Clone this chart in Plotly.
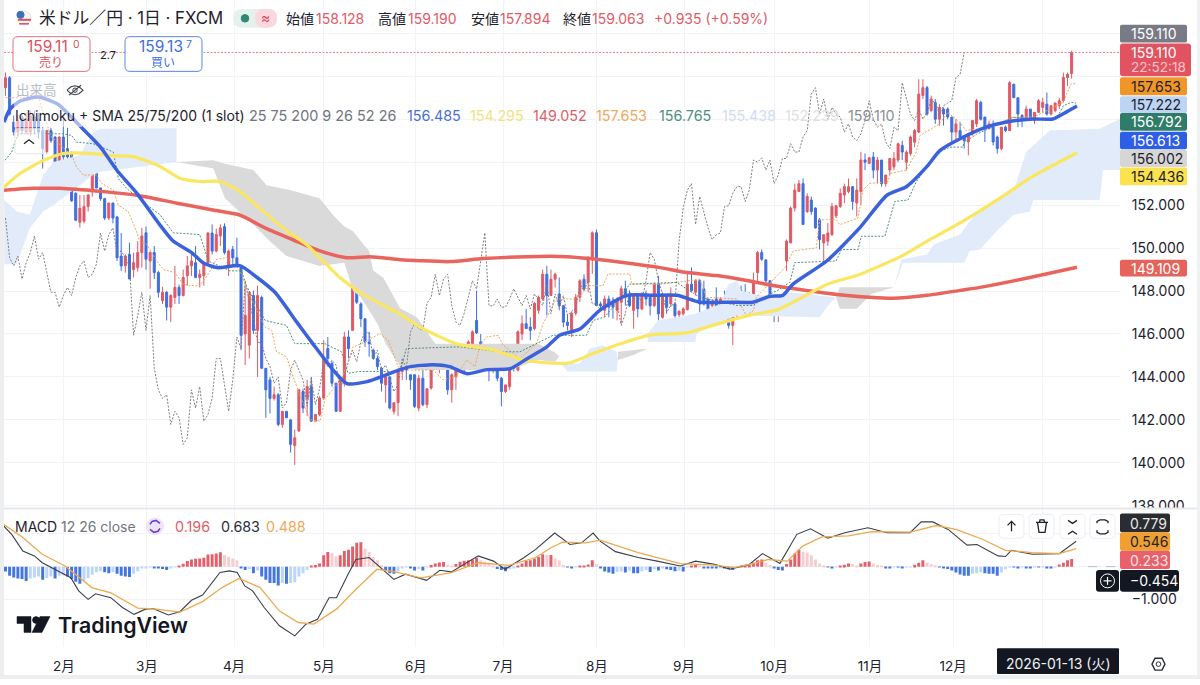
import plotly.graph_objects as go

W, H = 1200, 685

# candles (bar 0 = mid Jan 2025, last bar = 2026-01-13)
opens = [
    157.47,157.93,155.86,155.40,156.10,155.40,155.40,156.10,156.00,155.47,
    154.50,155.47,155.17,154.00,155.17,154.63,154.40,152.55,151.20,151.25,
    151.93,152.63,154.55,152.80,152.30,151.40,152.10,151.45,149.63,149.17,
    149.71,149.00,149.09,149.79,150.71,149.40,149.79,148.86,147.55,147.94,
    147.25,147.70,148.17,147.79,148.71,149.17,149.32,148.63,148.71,149.32,
    150.70,149.86,150.56,151.00,149.17,149.94,149.55,149.17,146.00,145.48,
    147.79,146.17,147.70,144.40,143.86,143.00,143.17,141.79,142.40,142.00,
    140.80,141.48,143.32,143.00,143.55,141.94,142.25,143.02,145.32,144.63,
    143.71,142.40,143.71,145.86,146.17,148.40,147.40,146.71,145.63,145.25,
    144.86,144.40,143.63,144.00,142.40,142.80,144.25,145.25,144.10,144.10,
    142.55,143.94,142.71,143.48,144.78,144.63,144.78,144.55,143.40,144.00,
    144.63,145.25,145.10,145.40,146.63,145.63,144.86,145.17,144.32,144.32,
    143.94,143.32,143.55,144.86,144.32,146.00,146.48,146.32,146.25,147.10,
    147.63,148.78,147.79,148.55,147.86,147.32,146.55,146.17,146.97,147.71,
    148.55,148.40,149.48,150.71,147.40,147.10,147.63,147.48,147.10,147.48,
    148.10,147.79,147.10,147.79,147.17,147.86,147.71,147.32,148.32,146.78,
    147.79,147.40,147.40,146.90,146.94,147.13,148.32,147.94,148.48,148.10,
    147.63,147.32,147.63,147.17,147.63,147.32,146.40,146.94,148.02,147.86,
    147.71,147.55,148.86,149.79,149.45,148.48,147.79,147.02,147.17,149.40,
    150.24,151.86,152.63,153.00,151.70,152.24,151.86,151.32,150.24,150.32,
    150.63,151.50,151.94,152.47,152.63,152.86,152.10,152.63,154.10,153.94,
    154.24,153.63,154.10,153.00,153.63,153.78,154.10,154.78,154.00,154.40,
    154.93,155.40,157.10,157.47,156.40,156.78,156.00,156.47,156.47,156.10,
    155.40,155.47,155.24,154.94,155.32,155.78,156.78,156.10,155.55,155.63,
    155.17,154.63,155.63,155.47,157.63,157.00,156.17,155.94,156.47,155.94,
    156.32,156.55,156.70,156.24,156.40,156.63,156.86,157.94,158.128]
highs = [
    158.17,158.01,156.17,156.20,156.20,156.30,156.40,156.40,156.30,155.63,
    155.50,155.60,155.20,155.20,156.00,155.60,154.50,152.60,152.47,152.47,
    152.50,154.63,154.63,152.80,152.34,152.10,152.10,151.50,150.70,149.71,
    150.25,149.79,150.32,150.94,151.00,149.85,150.10,148.94,148.20,148.00,
    147.85,149.17,148.30,149.00,149.63,149.79,150.09,149.00,149.32,150.75,
    151.10,150.90,151.10,151.15,149.94,150.10,150.48,149.20,148.25,148.00,
    148.02,148.25,147.79,144.40,144.00,143.55,143.25,142.40,142.40,142.05,
    141.55,143.45,143.45,143.86,144.00,142.25,143.10,145.71,145.86,144.71,
    143.71,143.94,146.10,146.17,148.63,148.48,147.48,146.71,146.10,145.32,
    145.00,144.48,144.02,144.02,142.80,144.40,144.86,146.25,144.10,144.10,
    144.10,144.32,143.48,144.78,144.86,145.25,145.40,144.55,144.17,144.86,
    145.32,145.32,145.71,146.17,148.02,146.00,145.48,145.17,144.86,144.40,
    144.00,143.63,144.94,144.94,146.17,146.86,147.17,146.78,147.48,147.79,
    149.00,149.17,149.00,148.86,148.63,147.32,146.94,147.02,147.86,148.55,
    148.78,149.63,150.78,150.86,147.50,147.79,147.79,147.71,147.71,148.25,
    148.48,148.02,147.86,147.86,147.94,148.02,147.86,148.40,148.71,147.94,
    147.86,148.17,147.48,147.10,147.25,148.86,149.10,148.55,148.55,148.48,
    147.63,147.63,148.17,147.71,148.02,147.40,146.94,148.17,148.25,148.32,
    147.94,148.86,149.86,149.94,149.48,148.48,147.79,147.40,147.48,150.40,
    151.94,153.00,153.17,153.24,152.55,152.40,151.90,151.40,150.62,151.17,
    152.10,152.00,152.78,153.00,153.24,152.86,153.24,154.47,154.40,154.24,
    154.47,154.24,154.10,153.40,154.17,154.47,154.90,155.00,154.55,155.24,
    155.55,157.86,157.86,157.55,157.10,156.94,156.70,156.55,156.55,156.10,
    156.00,155.86,155.24,155.32,155.94,156.94,156.86,156.10,155.94,155.94,
    155.24,155.63,155.70,157.78,157.63,157.00,156.24,156.63,156.47,156.32,
    156.94,157.00,157.24,156.63,156.78,157.00,158.17,158.17,159.19]
lows = [
    157.09,156.17,155.24,155.17,155.30,155.30,155.20,155.30,155.10,153.70,
    154.40,154.90,153.78,153.90,154.00,154.10,152.15,151.25,150.95,151.15,
    151.70,152.40,152.78,152.20,151.30,151.30,151.15,149.40,148.94,148.86,
    148.56,148.63,148.90,149.09,149.00,148.10,148.56,147.70,147.40,146.63,
    146.55,147.40,147.40,147.75,148.25,148.70,148.60,148.17,148.25,149.20,
    149.70,149.80,150.10,149.70,148.70,149.17,149.17,145.25,144.55,144.86,
    146.00,144.00,144.40,142.10,142.30,142.90,141.70,141.63,142.10,140.48,
    139.90,141.45,142.32,142.17,141.94,141.94,142.17,142.94,144.55,143.55,
    142.40,142.40,143.55,144.86,146.17,147.40,146.32,145.40,144.94,144.80,
    144.32,143.32,142.80,142.48,142.25,142.17,143.86,143.86,143.40,142.55,
    142.40,142.63,142.55,143.40,144.40,144.17,144.48,143.17,142.80,143.40,
    144.32,144.25,145.00,145.25,146.00,144.40,144.55,143.80,144.17,143.80,
    142.63,143.25,143.40,144.25,144.25,145.71,146.25,145.71,146.17,146.94,
    147.55,146.86,147.79,148.17,147.10,146.32,146.17,145.86,146.86,147.48,
    148.00,147.94,148.80,147.30,147.20,146.78,146.78,146.71,146.63,146.48,
    147.32,147.25,146.25,146.78,147.10,147.32,146.86,147.25,146.63,146.71,
    146.94,147.25,146.71,146.78,146.86,147.10,147.94,147.79,146.86,147.32,
    146.32,147.10,147.10,147.17,147.25,146.25,145.48,146.78,147.55,147.63,
    147.48,147.55,148.40,149.40,148.40,147.79,146.55,146.55,147.10,148.94,
    150.24,151.70,152.63,151.10,151.63,151.55,150.90,149.94,149.40,150.10,
    150.55,151.40,151.86,152.10,152.55,151.78,151.47,152.00,153.63,153.94,
    153.24,153.00,152.86,152.86,153.40,153.63,154.00,154.10,153.63,154.30,
    154.70,155.35,156.94,156.17,156.32,155.78,155.70,155.70,156.00,154.94,
    155.00,155.09,154.63,154.32,155.24,155.63,155.94,154.94,155.55,154.78,
    154.40,154.55,155.40,155.47,157.00,155.63,155.63,155.94,155.94,155.78,
    156.30,156.32,156.17,156.17,156.32,156.47,156.78,157.55,157.894]
closes = [
    157.93,156.24,155.40,155.93,155.47,156.00,156.15,155.60,155.40,154.63,
    155.47,155.00,154.00,155.17,154.25,154.25,152.20,151.30,151.85,151.93,
    152.47,154.55,152.80,152.30,151.40,152.10,151.40,149.55,149.17,149.63,
    148.56,149.32,149.79,150.56,149.48,149.79,148.86,147.94,147.94,147.25,
    147.79,148.17,147.79,148.63,149.17,149.40,148.63,148.78,149.25,150.70,
    149.86,150.63,150.94,149.79,149.86,149.55,149.17,145.94,146.86,147.94,
    146.17,147.79,144.40,143.40,143.00,143.17,141.79,142.40,142.10,140.86,
    141.17,143.40,142.55,143.55,141.94,142.25,143.02,144.86,144.86,143.71,
    142.40,143.86,145.86,145.32,148.48,147.48,146.71,145.63,145.55,144.86,
    144.48,143.71,144.00,142.55,142.80,144.32,144.78,144.32,143.86,142.63,
    143.94,142.71,143.45,144.71,144.48,144.78,144.55,143.40,144.10,144.71,
    145.25,144.71,145.63,146.10,146.05,144.86,145.25,144.32,144.55,143.94,
    143.32,143.63,144.86,144.40,146.10,146.48,146.25,146.17,147.43,147.71,
    148.78,147.79,148.55,148.78,147.32,146.55,146.40,146.97,147.71,148.48,
    148.10,149.48,150.71,147.32,147.30,147.63,147.25,147.25,147.63,148.10,
    147.71,147.32,147.79,147.17,147.86,147.63,147.32,148.32,146.94,147.86,
    147.25,147.79,146.86,147.06,147.17,148.32,148.02,148.48,147.40,147.40,
    147.10,147.48,147.25,147.63,147.40,146.40,146.94,148.02,147.63,147.71,
    147.55,148.48,149.79,149.48,148.48,147.86,147.02,147.32,147.40,150.32,
    151.86,152.70,153.00,151.10,152.40,151.70,150.94,150.40,150.62,150.70,
    151.94,151.97,152.55,152.86,152.86,152.17,152.70,154.10,154.00,154.20,
    153.63,154.10,153.00,153.40,154.17,154.17,154.86,154.47,154.47,155.17,
    155.47,157.17,157.47,156.24,156.94,156.00,156.55,156.24,156.10,155.40,
    155.78,155.17,155.00,155.32,155.94,156.86,156.00,155.63,155.78,154.94,
    154.63,155.63,155.47,157.70,157.00,156.24,155.94,156.47,156.00,156.32,
    156.86,156.78,156.24,156.63,156.75,156.86,157.94,158.09,159.11]
bars = list(range(len(closes)))

# moving averages
sma25_x = [-0.36,1.1,3.5,7.9,12.7,18,22.9,27,31.8,37.4,40.5,45.1,47.8,51.2,56.7,60.9,65.2,70.5,74.4,79.2,82.6,87.5,
           95.5,98,103.4,107.5,111.7,116.5,122.1,126.2,131,134.2,139,143.8,150.4,156.7,162.5,168,175.3,180.9,185,188.1,
           190.5,198.8,206.7,213.3,218.1,223,226.1,231,237.5,242.3,248.6,253.5,256.8,259.3]
sma25_y = [155.87,156.47,156.84,157.03,156.7,155.69,154.72,153.61,152.55,151.07,150.34,149.78,149.32,149.09,149.18,148.63,147.94,146.55,145.54,144.34,143.69,143.78,
           144.34,144.48,144.57,144.48,144.15,144.34,144.38,144.85,145.4,145.95,146.23,147.1,147.8,147.8,147.8,147.48,147.48,147.48,147.75,147.8,
           148.31,149.41,150.94,152.46,152.87,153.8,154.54,155.09,155.64,155.87,156.01,156.01,156.34,156.61]
sma75_x = [-0.36,3.5,9.1,13.9,21.2,26,30.9,37.4,42.2,47.1,51.9,56.7,62.3,68.1,72.9,80.9,86.5,95.5,100.3,109.2,117.9,125.2,131,136.6,
           141.4,147.9,155.9,164.9,172.1,180.1,186.7,191.5,198.8,206.7,217.1,224.4,231,239.9,248.6,259.3]
sma75_y = [152.83,153.47,154.07,154.4,154.4,154.3,154.26,153.8,153.25,153.1,153.1,152.64,151.72,150.8,150.15,148.63,147.85,146.92,146.32,145.54,145.26,144.8,144.66,144.66,
           145.03,145.49,145.95,146.05,146.46,146.88,147.11,147.57,148.31,148.77,149.65,150.47,151.17,152.23,153.34,154.44]
sma200_x = [-0.36,6.7,13.2,22.9,31.8,41.5,50.2,56.7,62.8,69.6,76.1,82.6,88.2,95.5,100.3,107.5,115.5,126.2,135.9,141.4,151.8,158.4,164.9,
            172.1,179.4,185.7,192.2,201.2,209.2,214.7,223,231,235.8,247.9,259.3]
sma200_y = [152.69,152.78,152.78,152.64,152.46,152.09,151.77,151.54,150.94,150.38,149.87,149.55,149.6,149.46,149.41,149.37,149.51,149.6,149.6,149.51,149.27,149.09,148.86,
            148.72,148.49,148.26,148.07,147.84,147.71,147.66,147.8,148.03,148.17,148.63,149.11]

# ichimoku lines
chikou_y = [
    151.40,149.55,149.17,149.63,148.56,149.32,149.79,150.56,149.48,149.79,148.86,147.94,147.94,147.25,
    147.79,148.17,147.79,148.63,149.17,149.40,148.63,148.78,149.25,150.70,
    149.86,150.63,150.94,149.79,149.86,149.55,149.17,145.94,146.86,147.94,
    146.17,147.79,144.40,143.40,143.00,143.17,141.79,142.40,142.10,140.86,
    141.17,143.40,142.55,143.55,141.94,142.25,143.02,144.86,144.86,143.71,
    142.40,143.86,145.86,145.32,148.48,147.48,146.71,145.63,145.55,144.86,
    144.48,143.71,144.00,142.55,142.80,144.32,144.78,144.32,143.86,142.63,
    143.94,142.71,143.45,144.71,144.48,144.78,144.55,143.40,144.10,144.71,
    145.25,144.71,145.63,146.10,146.05,144.86,145.25,144.32,144.55,143.94,
    143.32,143.63,144.86,144.40,146.10,146.48,146.25,146.17,147.43,147.71,
    148.78,147.79,148.55,148.78,147.32,146.55,146.40,146.97,147.71,148.48,
    148.10,149.48,150.71,147.32,147.30,147.63,147.25,147.25,147.63,148.10,
    147.71,147.32,147.79,147.17,147.86,147.63,147.32,148.32,146.94,147.86,
    147.25,147.79,146.86,147.06,147.17,148.32,148.02,148.48,147.40,147.40,
    147.10,147.48,147.25,147.63,147.40,146.40,146.94,148.02,147.63,147.71,
    147.55,148.48,149.79,149.48,148.48,147.86,147.02,147.32,147.40,150.32,
    151.86,152.70,153.00,151.10,152.40,151.70,150.94,150.40,150.62,150.70,
    151.94,151.97,152.55,152.86,152.86,152.17,152.70,154.10,154.00,154.20,
    153.63,154.10,153.00,153.40,154.17,154.17,154.86,154.47,154.47,155.17,
    155.47,157.17,157.47,156.24,156.94,156.00,156.55,156.24,156.10,155.40,
    155.78,155.17,155.00,155.32,155.94,156.86,156.00,155.63,155.78,154.94,
    154.63,155.63,155.47,157.70,157.00,156.24,155.94,156.47,156.00,156.32,
    156.86,156.78,156.24,156.63,156.75,156.86,157.94,158.09,159.11]
tenkan_x = [0,8,11,16,17.2,18.8,22,23.3,26.1,27.3,29.7,31.7,32.5,34.2,36.6,38.2,41,43,44.6,47,49.1,51.1,53.5,55.9,57.1,58.3,62.8,64.4,65.6,68,69.6,71.2,73.7,76.1,
            77.3,79.7,81.3,82.9,84.1,86.2,90.6,92.6,95,97,103.5,105.9,109.1,111.6,113.6,114.8,116.4,119.2,120.4,122.9,124.5,128.5,130.1,133.3,138.2,141.4,144.6,145.8,
            151.1,151.5,158.3,162.4,168,169.6,177,179.3,181,181.7,188.6,190.6,196.2,197,201,201.9,206.3,207.5,209.1,213.6,214,218,220.4,221.3,226,228,230.9,232.5,238.1,243.8,248.7,255.9,257.9,259.1]
tenkan_y = [157.0,157.0,155.2,154.32,153.78,153.4,153.4,153.01,152.7,152.0,151.7,150.78,150.3,150.17,149.4,149.0,148.86,148.32,148.25,148.25,148.79,149.48,149.56,149.17,148.79,148.1,146.32,146.17,145.17,144.94,144.02,143.17,142.02,141.94,
            142.94,143.55,143.86,144.71,145.4,145.55,146.02,145.71,144.48,144.32,144.32,143.86,144.02,144.79,144.48,145.48,145.86,145.94,145.48,145.09,144.86,145.55,146.48,147.63,147.63,148.25,148.25,148.79,
            148.79,148.32,148.32,148.4,148.55,147.71,147.63,146.86,147.09,147.71,149.09,149.86,150.01,151.32,151.32,151.09,151.4,152.7,153.01,153.09,153.47,153.63,154.47,155.24,155.78,156.32,155.86,155.47,155.63,156.09,156.09,156.78,157.65,157.65]
kijun_x = [-0.1,1.5,2.3,3.1,14,16,17.2,21.2,26.1,27.3,29.3,32.1,34.2,37.4,39.8,40.6,47,49.1,54.3,57.1,58.3,62.8,68,70,77.3,81.3,82.9,85.4,90.6,95.5,97,105.9,109.9,119.6,124.5,129.3,132.5,140.6,142.2,145,148.7,151,162.4,168,177,181,184.2,186.6,
           189.8,191,201,202.3,206.3,207.1,212.8,215.2,218.4,220.4,223.2,225.3,228.5,231.7,232,235,243.8,248.7,254.3,256,257.9,259.1]
kijun_y = [154.09,154.47,154.93,155.32,155.32,155.24,154.93,154.86,154.47,153.24,152.78,152.32,152.01,151.55,150.93,150.71,150.63,149.4,148.94,148.94,148.25,146.63,146.4,145.55,145.55,145.17,144.17,144.25,144.25,144.25,145.32,145.37,145.4,145.17,145.17,145.63,145.94,145.94,146.63,146.79,147.63,148.32,148.4,147.71,147.33,147.33,147.79,148.0,
           148.4,149.32,149.4,149.93,149.93,150.55,150.55,152.17,152.24,153.09,153.86,154.4,154.7,154.7,154.93,155.3,156.09,156.01,156.01,156.63,156.78,156.75]

# cloud patches: upper and lower edge of each
cloud_blue1_tx = [-0.3,2.7,5.9,9.1,11.6,18,21.2,23,41.4]
cloud_blue1_ty = [152.24,151.7,151.55,153.4,154.01,154.32,155.4,155.55,155.58]
cloud_blue1_bx = [-0.3,2.7,5.9,9.1,11.6,18,21.2,23,41.4]
cloud_blue1_by = [149.25,149.25,150.94,151.7,152.0,152.93,153.4,153.55,154.01]
cloud_grey1_tx = [41.4,50.3,53.1,60,63.2,68.8,76,79.2,82,84.1,86,88,89,91.4,95.5,99.5,104,122,129,133,134]
cloud_grey1_ty = [154.01,154.09,153.93,153.63,152.93,152.7,152.32,151.55,151.0,150.78,150.32,149.86,148.94,148.63,147.2,146.79,145.55,145.55,145.55,145.13,144.95]
cloud_grey1_bx = [41.4,50.3,53.1,60,64,68,76,79.2,82,84.1,86,90,92,95.5,99.5,104,122,129,133,134]
cloud_grey1_by = [154.01,153.7,152.32,151.09,150.32,149.63,149.17,149.25,149.32,148.0,147.71,146.48,145.55,144.48,144.32,144.32,144.32,144.79,144.71,144.95]
cloud_blue2_tx = [134,136,139,141.4,144.6,147.9,148.2]
cloud_blue2_ty = [144.71,144.63,144.63,145.32,145.48,145.17,144.79]
cloud_blue2_bx = [134,136,139,141.4,144.6,147.9,148.2]
cloud_blue2_by = [144.71,144.25,144.25,144.25,144.25,144.25,144.79]
cloud_grey2_tx = [148.2,152,155.4]
cloud_grey2_ty = [145.17,145.25,145.32]
cloud_grey2_bx = [148.2,152,155.4]
cloud_grey2_by = [144.79,145.02,145.32]
cloud_blue3_tx = [155.4,157.9,165,166.9,173,175,177,178,181,183.2,190,194.7,197,200,201]
cloud_blue3_ty = [146.02,146.63,146.86,146.94,147.4,148.32,148.48,148.02,147.86,147.79,147.93,147.86,147.78,147.7,147.7]
cloud_blue3_bx = [155.4,166.9,167.3,173,175,177,197,200,201]
cloud_blue3_by = [145.63,145.63,146.02,146.55,146.71,146.86,146.78,147.55,147.7]
cloud_grey3_tx = [201,201.9,206,209.5,215]
cloud_grey3_ty = [147.7,148.17,148.17,148.17,148.17]
cloud_grey3_bx = [201,201.9,206,207.6,209.5,215]
cloud_grey3_by = [147.7,147.17,147.17,147.5,147.86,148.17]
cloud_blue4_tx = [215,216.8,223,224.6,231,233.3,235.8,239.8,243.9,247,252.7,264.8,268.8,269.6,272]
cloud_blue4_ty = [148.17,149.47,149.7,150.17,150.63,151.24,151.77,152.32,152.63,154.47,155.47,155.55,155.93,156.01,156.01]
cloud_blue4_bx = [215,217.2,232,233.3,235.8,239.8,243.9,247.9,248.7,264.8,265.6,269.6,272]
cloud_blue4_by = [148.17,149.32,149.32,149.86,149.93,150.78,151.55,151.7,152.24,152.24,153.63,153.63,153.63]

# MACD pane
macd_x = [-0.4,1.5,4.2,7,8.9,12.6,15.8,17.7,20,21.8,25.5,28.3,31.1,33.9,35.7,39.4,42.2,45,47.7,51.9,54.2,56.1,57.9,59.8,62.6,66.3,70,72.7,75.5,78.3,80.1,82.9,84.8,88,90.3,94,96.8,99.6,101.9,105.1,107.9,114.4,118.1,120.9,125.5,128.3,132.9,136.6,139.4,142.2,
          143.9,147.6,153.1,157.7,163.3,167,171.6,175.3,180,183.2,187.4,191.5,194.8,199,203.1,208.7,213.3,218.9,221.6,224.4,228.1,232.7,235.1,240.2,242,243.4,248.5,255,259.1]
macd_y = [1.24,0.99,0.48,0.33,0.12,-0.13,-0.34,-0.74,-1.0,-0.83,-0.95,-1.25,-1.46,-1.30,-1.28,-1.48,-1.38,-1.03,-0.87,-0.18,-0.13,-0.18,-0.59,-0.74,-1.25,-1.81,-2.12,-1.76,-1.61,-0.95,-0.95,-0.23,0.22,0.28,0.02,-0.39,-0.23,-0.34,-0.42,-0.11,-0.16,0.33,0.17,-0.08,0.28,0.53,1.03,0.68,0.73,1.03,
          0.78,0.46,0.28,0.17,0.02,0.17,0.07,-0.08,0.07,0.40,0.10,0.99,1.16,0.87,1.04,1.19,1.04,1.04,1.37,1.37,1.14,0.66,0.68,0.33,0.31,0.50,0.38,0.40,0.78]
signal_x = [-0.4,4.2,8.9,14.4,20.9,25.5,32,36.6,42.2,47.7,52.4,56.5,61.6,66.3,70.9,74.6,80.1,84.8,89.9,94,100.5,107.9,114.4,121.8,128.3,132,134.8,140.3,143.9,
            153.1,163.3,171.6,176.3,180.9,184.6,189.2,192.9,197.6,204,209.6,218.9,225.3,230,236.4,242,248.5,255,259.1]
signal_y = [1.29,0.89,0.38,0.02,-0.64,-0.80,-1.27,-1.30,-1.39,-1.07,-0.64,-0.36,-0.64,-1.36,-1.71,-1.76,-1.30,-0.69,-0.08,-0.15,-0.34,-0.18,0.12,0.04,0.28,0.58,0.75,0.73,0.81,
            0.43,0.09,0.05,-0.03,0.09,0.22,0.17,0.63,0.91,0.94,1.07,1.06,1.26,1.14,0.84,0.50,0.43,0.40,0.55]
hist = [
    -.15,-.28,-.33,-.36,-.38,-.44,-.36,-.33,-.30,-.40,-.35,-.30,-.36,-.28,-.26,-.30,-.38,-.46,-.52,-.42,
    -.35,-.25,-.17,-.14,-.17,-.20,-.17,-.22,-.28,-.30,-.32,-.22,-.14,-.06,-.03,-.02,-.03,-.05,-.07,-.10,
    -.06,-.02,.02,.09,.17,.22,.24,.25,.27,.37,.38,.40,.44,.36,.30,.25,.20,-.05,-.10,-.07,
    -.20,-.12,-.30,-.40,-.50,-.50,-.58,-.50,-.52,-.50,-.48,-.30,-.20,-.10,.03,.05,.10,.35,.45,.42,
    .32,.35,.48,.52,.62,.73,.75,.55,.45,.30,.20,.05,-.10,-.20,-.22,-.15,-.05,-.02,-.04,-.12,
    -.07,-.12,-.02,.05,.10,.13,.14,.07,.03,.08,.15,.18,.20,.22,.28,.20,.15,.10,.03,-.07,
    -.10,-.14,-.08,-.03,.03,.10,.18,.20,.25,.30,.38,.36,.36,.26,.20,.05,-.02,-.04,-.02,.01,
    .03,.07,.20,.08,-.05,-.15,-.18,-.22,-.16,-.15,-.18,-.12,-.20,-.20,-.15,-.10,-.16,-.08,-.12,-.06,
    -.08,-.10,-.14,-.12,-.15,-.02,.03,.06,.03,-.03,-.05,-.05,-.06,-.04,-.05,-.08,-.10,-.02,.02,.03,
    .05,.12,.20,.22,.12,.05,-.03,-.10,-.12,.08,.22,.40,.52,.45,.43,.35,.22,.10,.04,-.02,
    -.03,-.02,.02,.06,.10,.08,.02,.10,.14,.16,.10,.05,.01,-.03,-.03,-.02,-.02,-.03,-.02,-.01,
    .06,.12,.20,.13,.08,.04,-.01,-.04,-.07,-.12,-.18,-.24,-.28,-.28,-.22,-.20,-.18,-.20,-.22,-.22,
    -.28,-.18,-.08,-.02,-.02,-.03,-.02,-.03,-.04,-.02,-.02,-.01,-.04,-.04,-.01,.07,.12,.20,.233]

month_ticks = [14.15,34.2,55.3,77.06,99.3,120.4,143.1,164.2,186,209.2,229.3]
month_labels = ["2月","3月","4月","5月","6月","7月","8月","9月","10月","11月","12月"]
price_ticks = [138,140,142,144,146,148,150,152]
price_labels = ["138.000","140.000","142.000","144.000","146.000","148.000","150.000","152.000"]

# colours
UP = "#DF5A66"
DOWN = "#3F6FDC"
CLOUD_BLUE = "#E1EBF9"
CLOUD_GREY = "#DADADA"
GRID = "#F1F3F6"
INK = "#1E222D"
FONT = "Inter, Noto Sans CJK JP, sans-serif"


def px(x):
    return x / W


def py(y):
    return 1 - y / H


def rbox(x0, y0, x1, y1, r=3):
    # rounded rectangle path in paper coordinates
    p = lambda x, y: f"{px(x):.5f},{py(y):.5f}"
    return (f"M{p(x0 + r, y0)} L{p(x1 - r, y0)} Q{p(x1, y0)} {p(x1, y0 + r)} L{p(x1, y1 - r)} "
            f"Q{p(x1, y1)} {p(x1 - r, y1)} L{p(x0 + r, y1)} Q{p(x0, y1)} {p(x0, y1 - r)} L{p(x0, y0 + r)} "
            f"Q{p(x0, y0)} {p(x0 + r, y0)} Z")


shapes = []
annots = []


def box(x0, y0, x1, y1, fill="white", line=None, r=3, width=1, opacity=1):
    shapes.append(dict(type="path", path=rbox(x0, y0, x1, y1, r), xref="paper", yref="paper", fillcolor=fill,
                       opacity=opacity, line=dict(color=line or "rgba(0,0,0,0)", width=width)))


def stroke(points, color=INK, width=1.3, fill="rgba(0,0,0,0)", close=False):
    path = "M" + " L".join(f"{px(x):.5f},{py(y):.5f}" for x, y in points) + (" Z" if close else "")
    shapes.append(dict(type="path", path=path, xref="paper", yref="paper", fillcolor=fill,
                       line=dict(color=color, width=width)))


def dot(cx, cy, r, fill, line=None):
    shapes.append(dict(type="circle", xref="paper", yref="paper", x0=px(cx - r), x1=px(cx + r),
                       y0=py(cy + r), y1=py(cy - r), fillcolor=fill, line=dict(color=line or fill, width=1)))


def label(x, y, text, color=INK, size=13.5, anchor="left", weight=None):
    annots.append(dict(x=px(x), y=py(y), xref="paper", yref="paper", text=text, showarrow=False, xanchor=anchor,
                       yanchor="middle", borderpad=0, font=dict(family=FONT, size=size, color=color, weight=weight)))


fig = go.Figure()


def cloud(tx, ty, bx, by, color):
    fig.add_trace(go.Scatter(x=tx + bx[::-1], y=ty + by[::-1], mode="lines", fill="toself", fillcolor=color,
                             line=dict(width=0), hoverinfo="skip"))


cloud(cloud_blue1_tx, cloud_blue1_ty, cloud_blue1_bx, cloud_blue1_by, CLOUD_BLUE)
cloud(cloud_grey1_tx, cloud_grey1_ty, cloud_grey1_bx, cloud_grey1_by, CLOUD_GREY)
cloud(cloud_blue2_tx, cloud_blue2_ty, cloud_blue2_bx, cloud_blue2_by, CLOUD_BLUE)
cloud(cloud_grey2_tx, cloud_grey2_ty, cloud_grey2_bx, cloud_grey2_by, CLOUD_GREY)
cloud(cloud_blue3_tx, cloud_blue3_ty, cloud_blue3_bx, cloud_blue3_by, CLOUD_BLUE)
cloud(cloud_grey3_tx, cloud_grey3_ty, cloud_grey3_bx, cloud_grey3_by, CLOUD_GREY)
cloud(cloud_blue4_tx, cloud_blue4_ty, cloud_blue4_bx, cloud_blue4_by, CLOUD_BLUE)

DOTS = "2px,1.5px"
fig.add_trace(go.Scatter(x=bars[:len(chikou_y)], y=chikou_y, mode="lines",
                         line=dict(color="#7E7E7E", width=1, dash=DOTS)))
fig.add_trace(go.Scatter(x=tenkan_x, y=tenkan_y, mode="lines", line=dict(color="#EDA65A", width=1, dash=DOTS)))
fig.add_trace(go.Scatter(x=kijun_x, y=kijun_y, mode="lines", line=dict(color="#4E8F7C", width=1, dash=DOTS)))

fig.add_trace(go.Candlestick(x=bars, open=opens, high=highs, low=lows, close=closes,
                             increasing=dict(line=dict(color=UP, width=1), fillcolor=UP),
                             decreasing=dict(line=dict(color=DOWN, width=1), fillcolor=DOWN)))

fig.add_trace(go.Scatter(x=sma200_x, y=sma200_y, mode="lines", line=dict(color="#E8645C", width=3.5, shape="spline", smoothing=0.6)))
fig.add_trace(go.Scatter(x=sma75_x, y=sma75_y, mode="lines", line=dict(color="#FAE65F", width=3.2, shape="spline", smoothing=0.6)))
fig.add_trace(go.Scatter(x=sma25_x, y=sma25_y, mode="lines", line=dict(color="#3B62DC", width=3.5, shape="spline", smoothing=0.6)))

# histogram colour follows rising / falling like the original
hist_colors = []
for i, v in enumerate(hist):
    prev = hist[i - 1] if i else 0
    if v >= 0:
        hist_colors.append("#E0606B" if v >= prev else "#F7CDD2")
    else:
        hist_colors.append("#4477DD" if v <= prev else "#BBD6F8")
fig.add_trace(go.Bar(x=bars, y=hist, marker=dict(color=hist_colors, line=dict(width=0)), width=0.72,
                     xaxis="x2", yaxis="y2"))
fig.add_trace(go.Scatter(x=macd_x, y=macd_y, mode="lines", line=dict(color="#3A3F4B", width=1.1), xaxis="x2", yaxis="y2"))
fig.add_trace(go.Scatter(x=signal_x, y=signal_y, mode="lines", line=dict(color="#EDA94F", width=1.3), xaxis="x2", yaxis="y2"))
fig.add_trace(go.Scatter(x=[262, 270], y=[0, 0], mode="lines", line=dict(color="#B8BCC6", width=1, dash="dash"),
                         xaxis="x2", yaxis="y2"))

# last price dotted line
shapes.append(dict(type="line", xref="x", yref="y", x0=-0.36, x1=269.7, y0=159.11, y1=159.11,
                   line=dict(color="#E0808A", width=1, dash=DOTS)))

# chrome around the panes
shapes.append(dict(type="rect", xref="paper", yref="paper", x0=px(1120), x1=1, y0=py(517), y1=py(513),
                   fillcolor="white", line=dict(width=0)))
shapes.append(dict(type="rect", xref="paper", yref="paper", x0=0, x1=px(1200), y0=py(514), y1=py(512),
                   fillcolor="#E6E8EC", line=dict(width=0)))
shapes.append(dict(type="rect", xref="paper", yref="paper", x0=0, x1=px(4), y0=0, y1=1, fillcolor="#ECEEF0", line=dict(width=0)))
shapes.append(dict(type="rect", xref="paper", yref="paper", x0=px(1197), x1=1, y0=0, y1=1, fillcolor="#F0F1F3", line=dict(width=0)))
shapes.append(dict(type="rect", xref="paper", yref="paper", x0=0, x1=1, y0=0, y1=py(681), fillcolor="#ECEEF0", line=dict(width=0)))

# header
dot(24, 18, 7, "#F3F3F3", "#E6E6E6")
stroke([(18, 20), (31, 20)], "#D9535F", 2)
stroke([(19, 24), (29, 24)], "#D9535F", 1.5)
dot(20.5, 15, 3.6, "#3F6FB5")
label(38, 18, "米ドル／円 · 1日 · FXCM", INK, 16.8)
box(233, 9, 277, 28, "#E4F1EC", None, 9)
box(255, 9, 277, 28, "#F9D9DF", None, 9)
dot(245, 18.5, 3.8, "#2E8B73")
label(265, 18, "≈", "#D9475A", 14, "center")
for x, t, c in [(285, "始値", INK), (315, "158.128", UP), (377, "高値", INK), (407, "159.190", UP),
                (470, "安値", INK), (499, "157.894", UP), (562, "終値", INK), (591, "159.063", UP),
                (653, "+0.935 (+0.59%)", UP)]:
    label(x, 19, t, c, 14)

# buy / sell boxes
box(13, 37, 90, 72, "white", "#D9737C", 5, 1)
label(26, 47, "159.11", "#D9535F", 15.5)
label(72, 45, "0", "#D9535F", 10.5)
label(51, 63, "売り", "#D9535F", 12, "center")
label(108, 55, "2.7", INK, 11, "center")
box(125, 37, 202, 72, "white", "#5F85DE", 5, 1)
label(138, 47, "159.13", "#3F6FDC", 15.5)
label(185, 45, "7", "#3F6FDC", 10.5)
label(163, 63, "買い", "#3F6FDC", 12, "center")

# legends over the candles
box(14, 85, 82, 128, "white", None, 0, opacity=0.55)
label(15, 91, "出来高", "#B9BCC4", 13.5)
stroke([(67, 91), (71, 87.5), (75, 86.5), (79, 87.5), (83, 91), (79, 94.5), (75, 95.5), (71, 94.5), (67, 91)], "#3A3F4B", 1.1)
dot(75, 91, 2.2, "rgba(0,0,0,0)", "#3A3F4B")
stroke([(69, 96), (81, 86)], "#3A3F4B", 1.1)
label(14, 117, "Ichimoku + SMA 25/75/200 (1 slot)", INK, 14)
label(248, 117, "25 75 200 9 26 52 26", "#70757F", 14.4)
for x, t, c in [(406, "156.485", "#4A6FD8"), (469, "154.295", "#F1E27C"), (532, "149.052", "#DD6068"),
                (595, "157.653", "#F0A85C"), (658, "156.765", "#4E8F7C"), (721, "155.438", "#CFDDF1"),
                (784, "152.239", "#DEDFE1"), (847, "159.110", "#8B8D93")]:
    label(x, 117, t, c, 14.3)
box(15, 130, 45, 155, "rgba(255,255,255,0.6)", "#E4E6EA", 2)
stroke([(24, 145), (29, 141), (34, 145)], INK, 1.3)

# price scale tags
for y0, y1, fill, text, color in [(25, 43, "#787B86", "159.110", "white"), (78, 96, "#F0952A", "157.653", INK),
                                  (97, 114, "#BDD4F4", "157.222", INK), (114, 132, "#2F7D68", "156.792", "white"),
                                  (133, 150.5, "#2F5EE6", "156.613", "white"), (151, 168.5, "#D6D6D6", "156.002", INK),
                                  (169, 187, "#FBE24F", "154.436", INK), (262, 279, "#E5635B", "149.109", "white")]:
    box(1120, y0, 1187, y1, fill, None, 2)
    label(1129.5, (y0 + y1) / 2, text, color, 14)
box(1120, 44, 1191, 77, "#E15360", None, 3)
label(1129.5, 53, "159.110", "white", 14)
label(1129.5, 68, "22:52:18", "#F7C6CB", 13.6)

# MACD legend and tags
label(14, 531, "MACD", INK, 14)
label(60, 531, "12 26 close", "#70757F", 14)
dot(155, 531, 8.5, "#EDE4FA")
stroke([(150, 529), (152, 526), (156, 525), (160, 528)], "#6A3FCF", 1.6)
stroke([(160, 533), (158, 536), (154, 537), (150, 534)], "#6A3FCF", 1.6)
label(174, 531, "0.196", "#DD6068", 14.3)
label(220, 531, "0.683", "#2A2E39", 14.3)
label(265, 531, "0.488", "#F0A85C", 14.3)

for x0 in [999, 1029, 1060, 1090]:
    box(x0, 519, x0 + 25, 543, "white", "#ECEEF1", 4)
stroke([(1011.5, 536), (1011.5, 526)], INK, 1.3)
stroke([(1007.5, 530), (1011.5, 526), (1015.5, 530)], INK, 1.3)
stroke([(1036, 527), (1048, 527)], INK, 1.3)
stroke([(1037.5, 527), (1039, 537), (1045, 537), (1046.5, 527)], INK, 1.3)
stroke([(1039.5, 527), (1040, 524.5), (1044, 524.5), (1044.5, 527)], INK, 1.3)
stroke([(1068, 525), (1072.5, 528), (1077, 525)], INK, 1.3)
stroke([(1068, 539), (1072.5, 536), (1077, 539)], INK, 1.3)
stroke([(1097, 528), (1097, 526), (1100, 524.5), (1105, 524.5), (1108, 526), (1108, 528)], INK, 1.3)
stroke([(1097, 535), (1097, 537), (1100, 538.5), (1105, 538.5), (1108, 537), (1108, 535)], INK, 1.3)

box(1120, 518, 1170, 537, "#2A2C31", None, 2)
label(1129, 528, "0.779", "#E8E8E8", 14)
box(1120, 537, 1170, 555.5, "#F0A030", None, 2)
label(1129, 546.5, "0.546", INK, 14)
box(1120, 555.5, 1170, 574, "#E8606A", None, 2)
label(1129, 565, "0.233", "#FBE3E5", 14)
box(1096, 575, 1119, 597, "#131722", None, 3)
dot(1107.5, 586, 7, "#131722", "white")
stroke([(1103.5, 586), (1111.5, 586)], "white", 1.2)
stroke([(1107.5, 582), (1107.5, 590)], "white", 1.2)
box(1120, 575, 1179, 597, "#131722", None, 3)
label(1129, 586, "−0.454", "white", 14)

# date tag and settings icon
box(997, 654, 1119, 680, "#131722", None, 1)
label(1058, 669, "2026-01-13 (火)", "#F0F0F0", 14, "center")
stroke([(1152, 670), (1155, 664), (1162, 664), (1165, 670), (1162, 676), (1155, 676)], "#2A2E39", 1.4, close=True)
dot(1158.5, 670, 2.3, "rgba(0,0,0,0)", "#2A2E39")

# TradingView mark
stroke([(17, 622), (31, 622), (31, 638), (24, 638), (24, 629), (17, 629)], "#131722", 0.5, "#131722", True)
dot(36, 625.5, 3.3, "#131722")
stroke([(40, 622), (50, 622), (42, 638), (32, 638)], "#131722", 0.5, "#131722", True)
label(57, 631, "TradingView", "#131722", 21.3, weight=600)

xtick = dict(tickmode="array", tickvals=month_ticks, showgrid=True, gridcolor=GRID, gridwidth=1, zeroline=False,
             range=[-0.36, 269.7], showline=False, minor=dict(tickvals=[251], showgrid=True, gridcolor=GRID))

fig.update_layout(
    autosize=True, margin=dict(l=0, r=0, t=0, b=0), paper_bgcolor="white", plot_bgcolor="white",
    showlegend=False, hovermode=False, bargap=0.25, font=dict(family=FONT, color=INK, size=13),
    xaxis=dict(domain=[px(4), px(1120)], anchor="y", showticklabels=False, ticks="", rangeslider=dict(visible=False), **xtick),
    xaxis2=dict(domain=[px(4), px(1120)], anchor="y2", ticktext=month_labels, ticks="outside", ticklen=7,
                tickcolor="white", tickfont=dict(size=13.5, color=INK), **xtick),
    yaxis=dict(domain=[py(512), 1], range=[137.92, 161.55], side="right", anchor="x", tickmode="array",
               tickvals=price_ticks, ticktext=price_labels, showgrid=True, gridcolor=GRID, zeroline=False,
               minor=dict(tickvals=[154, 156, 158, 160], showgrid=True, gridcolor=GRID),
               ticks="outside", ticklen=8, tickcolor="white", tickfont=dict(size=14, color=INK)),
    yaxis2=dict(domain=[py(653), py(514)], range=[-2.468, 1.75], side="right", anchor="x2", tickmode="array",
                tickvals=[-1], ticktext=["−1.000"], showgrid=True, gridcolor=GRID, zeroline=False,
                minor=dict(tickvals=[0, 1], showgrid=True, gridcolor=GRID),
                ticks="outside", ticklen=8, tickcolor="white", tickfont=dict(size=14, color=INK)),
    shapes=shapes, annotations=annots,
)

fig.write_html("out.html", config={"displayModeBar": False},
               post_script="document.documentElement.style.height='100%';document.body.style.height='100%';"
                           "document.body.style.margin='0';document.body.style.overflow='hidden';"
                           "Plotly.Plots.resize(document.querySelector('.plotly-graph-div'));")
